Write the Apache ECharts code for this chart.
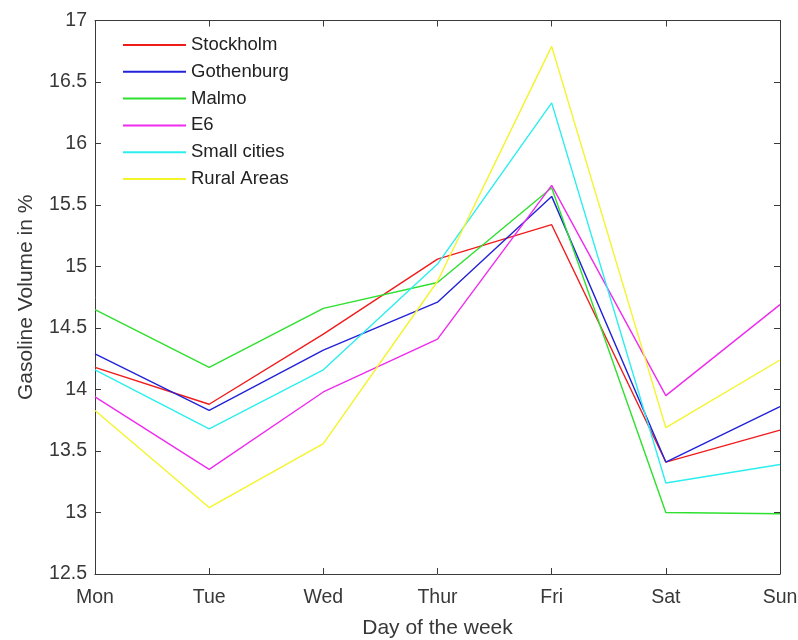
<!DOCTYPE html>
<html>
<head>
<meta charset="utf-8">
<script src="https://cdn.jsdelivr.net/npm/echarts@6/dist/echarts.min.js"></script>
<style>
  html, body { margin: 0; padding: 0; background: #fff; }
  #chart { width: 798px; height: 640px; }
</style>
</head>
<body>
<div id="chart"></div>
<script>
// Weekly gasoline volume share per region
const days = ['Mon', 'Tue', 'Wed', 'Thur', 'Fri', 'Sat', 'Sun'];
const seriesNames = ['Stockholm', 'Gothenburg', 'Malmo', 'E6', 'Small cities', 'Rural Areas'];
const stockholm   = [14.18, 13.88, 14.45, 15.06, 15.34, 13.41, 13.67];
const gothenburg  = [14.29, 13.83, 14.32, 14.71, 15.57, 13.41, 13.86];
const malmo       = [14.65, 14.18, 14.66, 14.87, 15.64, 13.00, 12.99];
const e6          = [13.94, 13.35, 13.98, 14.41, 15.66, 13.95, 14.69];
const smallCities = [14.16, 13.68, 14.16, 15.02, 16.33, 13.24, 13.39];
const ruralAreas  = [13.83, 13.04, 13.56, 14.88, 16.79, 13.69, 14.24];
const yTicks = [12.5, 13, 13.5, 14, 14.5, 15, 15.5, 16, 16.5, 17];

const values = [stockholm, gothenburg, malmo, e6, smallCities, ruralAreas];
const colors = ['#f01c1c', '#2222d8', '#2ee02e', '#ee2cee', '#2ceeee', '#f4f42a'];

const font = '"Liberation Sans", Arial, Helvetica, sans-serif';
const axisColor = '#3a3a3a';
const textColor = '#383838';

const chart = echarts.init(document.getElementById('chart'), null, { renderer: 'canvas' });

const baseX = {
  type: 'category',
  data: days,
  boundaryGap: false,
  axisLine: { lineStyle: { color: axisColor, width: 1 } },
  axisTick: { inside: true, length: 6, alignWithLabel: true, lineStyle: { color: axisColor } },
  splitLine: { show: false }
};
const baseY = {
  type: 'value',
  min: yTicks[0],
  max: yTicks[yTicks.length - 1],
  interval: 0.5,
  axisLine: { show: true, lineStyle: { color: axisColor, width: 1 } },
  axisTick: { show: true, inside: true, length: 6, lineStyle: { color: axisColor } },
  splitLine: { show: false }
};

chart.setOption({
  backgroundColor: '#fff',
  animation: false,
  grid: { left: 95, right: 18, top: 20.5, bottom: 66, containLabel: false, outerBoundsMode: 'none' },
  legend: {
    data: seriesNames,
    orient: 'vertical',
    left: 117,
    top: 30,
    itemWidth: 63,
    itemHeight: 14,
    itemGap: 6.8,
    itemStyle: { opacity: 0 },
    textStyle: { fontFamily: font, fontSize: 18.5, color: '#222', lineHeight: 20 }
  },
  xAxis: [
    Object.assign({}, baseX, {
      position: 'bottom',
      name: 'Day of the week',
      nameLocation: 'middle',
      nameGap: 44,
      nameTextStyle: { fontFamily: font, fontSize: 21, color: textColor },
      axisLabel: { fontFamily: font, fontSize: 19.5, color: textColor, margin: 14 }
    }),
    Object.assign({}, baseX, {
      position: 'top',
      axisLabel: { show: false }
    })
  ],
  yAxis: [
    Object.assign({}, baseY, {
      position: 'left',
      name: 'Gasoline Volume in %',
      nameLocation: 'middle',
      nameGap: 58,
      nameTextStyle: { fontFamily: font, fontSize: 21, color: textColor },
      axisLabel: { fontFamily: font, fontSize: 19.5, color: textColor, margin: 8, padding: [6, 0, 0, 0] }
    }),
    Object.assign({}, baseY, {
      position: 'right',
      axisLabel: { show: false }
    })
  ],
  series: seriesNames.map((name, i) => ({
    name: name,
    type: 'line',
    data: values[i],
    symbol: 'none',
    color: colors[i],
    lineStyle: { width: 1.4, color: colors[i] },
    emphasis: { disabled: true }
  }))
});
</script>
</body>
</html>
